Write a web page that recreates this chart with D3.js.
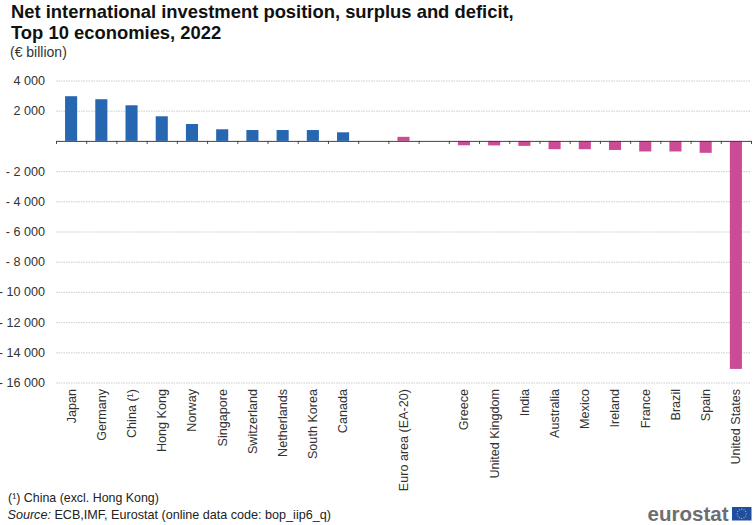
<!DOCTYPE html>
<html>
<head>
<meta charset="utf-8">
<script src="https://cdn.jsdelivr.net/npm/d3@7/dist/d3.min.js"></script>
<style>
html,body{margin:0;padding:0;background:#fff}
svg{display:block;font-family:"Liberation Sans",Arial,sans-serif}
</style>
</head>
<body>
<svg id="chart" width="756" height="525"></svg>
<script>
const categories = ["Japan","Germany","China (¹)","Hong Kong","Norway","Singapore","Switzerland","Netherlands","South Korea","Canada"," ","Euro area (EA-20)","  ","Greece","United Kingdom","India","Australia","Mexico","Ireland","France","Brazil","Spain","United States"];
const values = [2960,2760,2360,1630,1120,770,720,720,720,570,null,270,null,-290,-300,-330,-550,-550,-600,-700,-700,-790,-15100];
const yTicks = [4000,2000,0,-2000,-4000,-6000,-8000,-10000,-12000,-14000,-16000];
const titleLines = ["Net international investment position, surplus and deficit,","Top 10 economies, 2022"];
const subtitle = "(€ billion)";
const note = "(¹) China (excl. Hong Kong)";
const sourceLabel = "Source:";
const sourceText = " ECB,IMF, Eurostat (online data code: bop_iip6_q)";
const starIndex = d3.range(12);

const svg = d3.select("#chart");
const left = 56, right = 751, top0 = 80.5, bottom = 382.5;
const x = d3.scaleBand().domain(categories).range([left,right]).paddingInner(0.6).paddingOuter(0.3);
const xEdge = d3.scaleLinear().domain([0,categories.length]).range([left,right]);
const y = d3.scaleLinear().domain([-16000,4000]).range([bottom,top0]);
const fmt = v => { const s = d3.format(",")(Math.abs(v)).replace(/,/g," "); return v < 0 ? "- "+s : s; };

// gridlines + y labels
const yAxis = svg.append("g").attr("transform",`translate(${left},0)`)
  .call(d3.axisLeft(y).tickValues(yTicks).tickSize(0).tickPadding(11).tickFormat(v => v===0 ? "" : fmt(v)));
yAxis.select(".domain").remove();
yAxis.selectAll("text").attr("font-size",12.6).attr("font-family","inherit").attr("fill","#333");
yAxis.selectAll(".tick line").filter(d=>d!==0)
  .attr("x2",right-left).attr("stroke","#bfbfbf").attr("stroke-width",0.8).attr("stroke-dasharray","1.5 1");

// bars
svg.append("g").selectAll("rect").data(categories.map((c,i)=>({c,v:values[i]})).filter(d=>d.v!==null)).join("rect")
  .attr("x",d=>x(d.c)).attr("width",x.bandwidth())
  .attr("y",d=>y(Math.max(0,d.v))).attr("height",d=>Math.abs(y(d.v)-y(0)))
  .attr("fill",d=>d.v>=0 && d.c!=="Euro area (EA-20)" ? "#2767b2" : "#cc4b97");

// zero line with ticks between categories
const zero = svg.append("g").attr("transform",`translate(0,${y(0)})`)
  .call(d3.axisBottom(xEdge).tickValues(d3.range(categories.length+1)).tickSize(3).tickSizeOuter(0).tickFormat(""));
zero.select(".domain").attr("stroke","#444").attr("stroke-width",1);
zero.selectAll(".tick line").attr("stroke","#444");

// category labels
const xAxis = svg.append("g").attr("transform",`translate(0,${bottom})`)
  .call(d3.axisBottom(x).tickSize(0).tickPadding(0));
xAxis.select(".domain").remove();
xAxis.selectAll("text").attr("font-size",12.6).attr("font-family","inherit").attr("fill","#333")
  .attr("transform","rotate(-90)").attr("text-anchor","end").attr("dy","0.35em").attr("x",-6.5).attr("y",0);

// titles
svg.append("g").selectAll("text").data(titleLines).join("text")
  .attr("x",11).attr("y",(d,i)=>18+i*21).attr("font-size",18.4).attr("font-weight","bold").attr("fill","#111").text(d=>d);
svg.append("text").attr("x",10).attr("y",57).attr("font-size",14).attr("fill","#333").text(subtitle);

// footnotes
svg.append("text").attr("x",8).attr("y",502).attr("font-size",12.4).attr("fill","#222").text(note);
const src = svg.append("text").attr("x",7.5).attr("y",519).attr("font-size",12.6).attr("fill","#222");
src.append("tspan").attr("font-style","italic").text(sourceLabel);
src.append("tspan").text(sourceText);

// logo
svg.append("text").attr("x",728.5).attr("y",521).attr("text-anchor","end").attr("font-size",20.5).attr("font-weight","bold").attr("fill","#6d6e71").text("eurostat");
svg.append("rect").attr("x",732).attr("y",507).attr("width",19.5).attr("height",13.5).attr("fill","#1f4ea1");
const starAngle = d3.scaleLinear().domain([0,12]).range([0,2*Math.PI]);
svg.append("g").selectAll("circle").data(starIndex).join("circle")
  .attr("cx",d=>741.75+4.6*Math.cos(starAngle(d))).attr("cy",d=>513.75+4.6*Math.sin(starAngle(d)))
  .attr("r",0.55).attr("fill","#f5d90a");
</script>
</body>
</html>
